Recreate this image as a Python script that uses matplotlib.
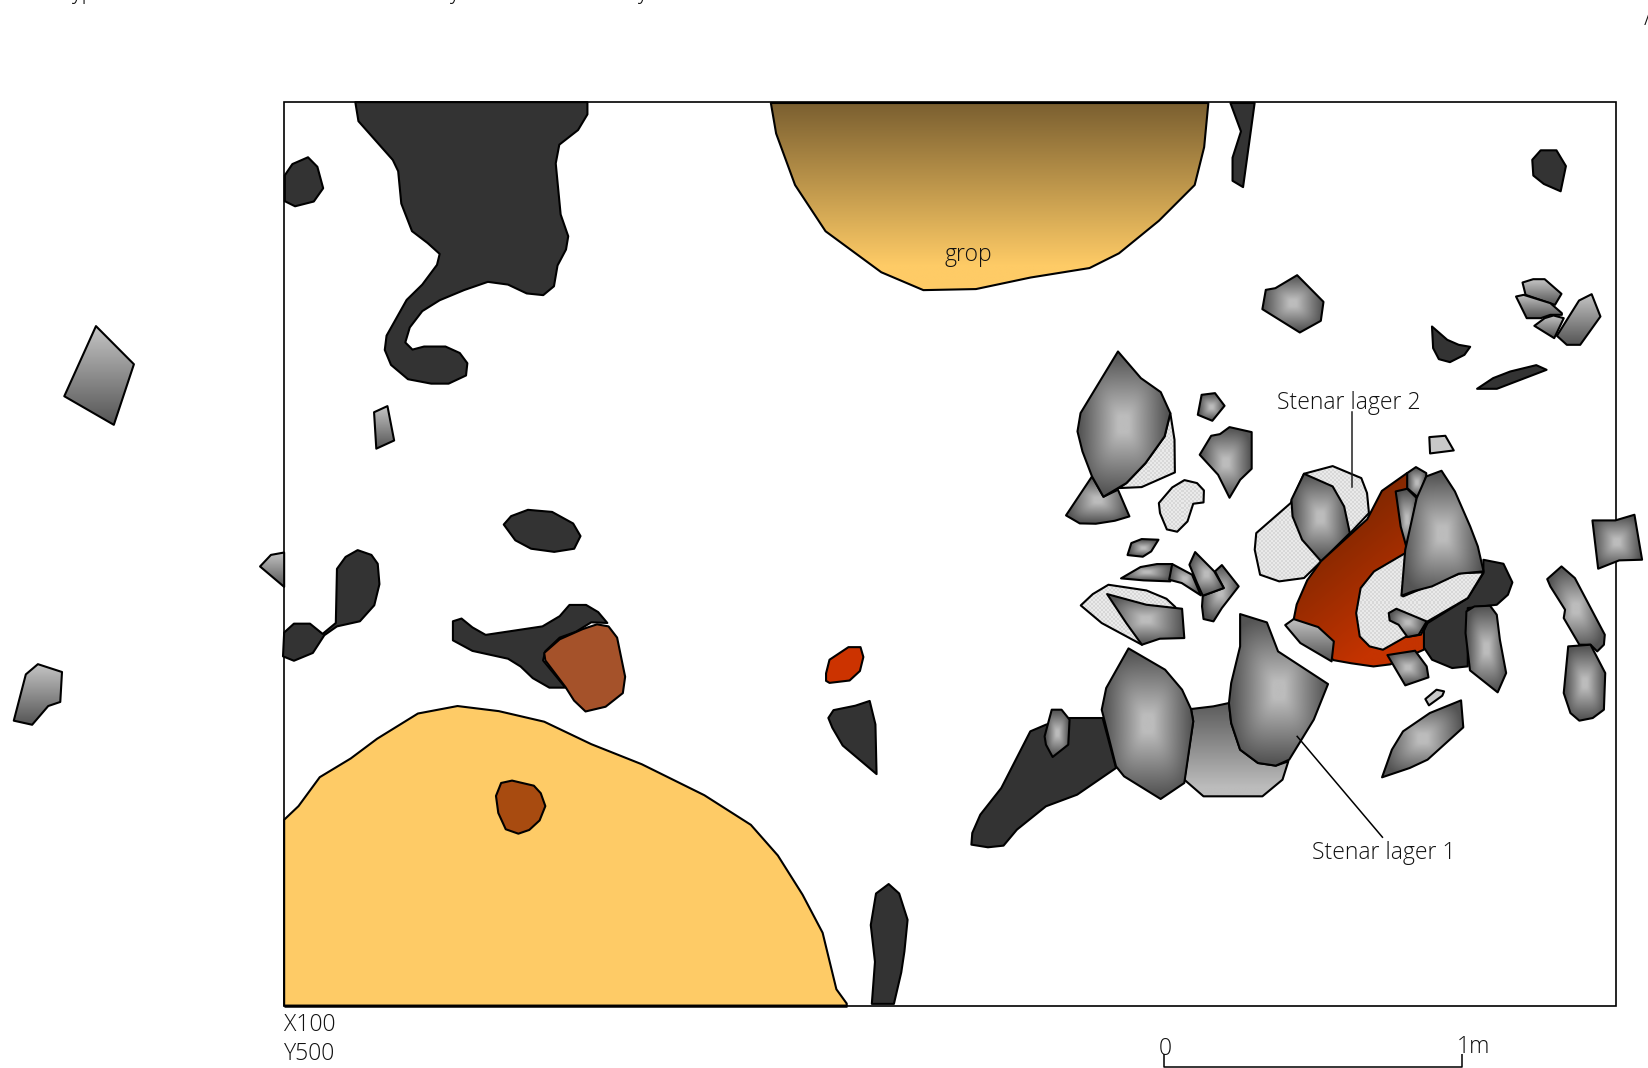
import numpy as np
import matplotlib
matplotlib.use("Agg")
import matplotlib.pyplot as plt
from matplotlib.patches import Polygon, Rectangle

# page coordinates of the drawing
PAGE_W, PAGE_H = 1568, 1016
FRAME = (270, 97.5, 1537, 957)

V0 = (0, 0, 1, 1)
V1 = (998.4, 237.7, 2.753, 3.155)
V2 = (903.3, 523, 2.356, 3.155)
V3 = (0, 0, 2.356, 3.088)
V4 = (0, 507.8, 1.832, 3.088)

top_dark = [(796,300),(803,356),(880,470),(892,503),(899,598),(923,679),(958,714),(985,746),(979,778),(946,836),(911,881),(866,986),(862,1028),(876,1072),(914,1114),(966,1127),(1005,1127),(1044,1103),(1047,1067),(1030,1037),(998,1018),(950,1018),(924,1027),(908,1006),(918,962),(946,914),(985,882),(1040,852),(1093,828),(1138,836),(1180,862),(1217,867),(1241,841),(1249,780),(1268,733),(1273,694),(1256,630),(1245,480),(1253,425),(1295,382),(1316,336),(1316,300)]
left_dark = [(638,515),(655,482),(690,462),(711,490),(724,553),(703,592),(661,606),(638,591)]
far_stone = [(215,958),(300,1070),(255,1248),(144,1164)]
slim_stone = [(838,1211),(868,1193),(883,1294),(843,1318)]
blob = [(479,499),(486,491),(502,485),(525,487),(545,498),(552,510),(546,522),(527,525),(505,522),(490,514)]
low_stone = [(24,549),(45,413),(66,383),(108,406),(105,494),(84,506),(56,561)]
edge_stone = [(453,96),(472,62),(495,55),(495,156)]
wall_dark = [(495,290),(512,264),(540,264),(562,294),(585,262),(587,103),(602,68),(623,48),(647,62),(658,88),(661,148),(652,210),(627,257),(587,272),(565,298),(545,350),(512,373),(493,360)]
mid_dark = [(789,257),(804,249),(823,275),(846,297),(945,272),(975,242),(992,209),(1021,209),(1042,230),(1058,262),(1030,260),(1003,288),(975,305),(950,345),(946,372),(985,452),(957,452),(928,424),(907,390),(885,367),(823,344),(789,313)]
brown = [(948,350),(975,310),(1015,280),(1040,266),(1060,272),(1075,305),(1089,420),(1085,468),(1055,508),(1020,522),(1000,490),(985,450),(950,372)]
red_spot = [(1439,410),(1445,370),(1478,333),(1499,333),(1504,362),(1498,403),(1480,431),(1445,438),(1439,432)]
wedge_dark = [(1443,541),(1452,518),(1490,505),(1515,491),(1525,560),(1527,706),(1468,622),(1450,570)]
yellow = [(495,840),(520,800),(557,715),(611,660),(657,602),(728,528),(797,506),(869,521),(948,552),(1030,618),(1118,677),(1227,768),(1308,855),(1355,945),(1398,1060),(1433,1172),(1457,1338),(1475,1380),(1475,1386),(495,1386)]
orange = [(864,770),(873,732),(892,725),(930,740),(942,762),(950,800),(940,842),(922,870),(903,881),(881,868),(868,820)]
post_dark = [(828,880),(833,850),(845,841),(855,850),(863,875),(860,905),(857,925),(850,955),(829,955),(832,915)]
pit = [(733,98),(738,127),(756,176),(785,220),(838,259),(878,276),(928,275),(980,264),(1036,255),(1064,241),(1102,210),(1136,176),(1145,140),(1149,98)]
sliver_dark = [(1170,98),(1193,98),(1190,120),(1182,178),(1172,172),(1172,150),(1180,125)]
corner_dark = [(1457,152),(1465,143),(1480,143),(1489,158),(1484,182),(1468,175),(1458,167)]

s_a = [(556,178),(565,120),(590,115),(647,76),(716,156),(709,213),(654,248)]
s_b1 = [(1237,98),(1265,88),(1295,88),(1339,132),(1322,165),(1308,160),(1245,135)]
s_b2 = [(1220,140),(1240,135),(1310,160),(1340,190),(1340,195),(1310,195),(1285,205),(1248,205)]
s_b3 = [(1268,228),(1295,205),(1318,197),(1345,205),(1320,265)]
s_b4 = [(1327,258),(1385,152),(1418,133),(1441,200),(1388,285),(1353,285)]
dark_c = [(1000,230),(1040,270),(1070,285),(1100,291),(1085,315),(1047,337),(1018,328),(1003,295)]
dark_thin = [(1118,417),(1160,385),(1205,365),(1273,346),(1300,360),(1170,417)]
s_big = [(178,305),(238,385),(290,427),(315,490),(300,560),(250,640),(200,700),(140,741),(110,680),(85,605),(72,545),(80,490)]
h_big = [(315,490),(326,570),(327,668),(240,712),(180,715),(200,700),(250,640),(300,560)]
s_tri = [(110,680),(140,741),(178,720),(208,800),(170,813),(120,822),(78,821),(42,797)]
s_small = [(397,435),(432,430),(457,468),(425,513),(387,495)]
s_drop = [(392,615),(422,558),(445,553),(470,532),(528,547),(528,657),(498,690),(470,744),(440,675)]
s_pale = [(993,562),(1035,558),(1057,602),(995,611)]
h_bean = [(285,760),(320,713),(352,691),(385,700),(403,722),(402,758),(375,762),(360,815),(333,846),(306,839),(288,790)]
s_chip = [(203,916),(213,880),(240,868),(284,870),(265,905),(243,921)]
s_g1 = [(186,986),(237,952),(280,943),(320,943),(315,995),(245,992)]
s_g2 = [(320,943),(372,975),(395,1037),(345,1000),(312,990)]
s_g4 = [(400,1038),(455,1015),(432,965),(450,946),(494,1010),(450,1075),(428,1115),(402,1108),(398,1070)]
s_g3 = [(365,945),(380,907),(430,965),(455,1015),(400,1038),(385,1000)]
h_low = [(293,167),(320,133),(355,105),(440,122),(485,147),(505,172),(430,285),(340,220)]
s_low = [(352,133),(440,165),(520,177),(525,265),(470,267),(430,285),(395,220)]
h_wide = [(536,900),(540,850),(630,760),(665,672),(740,649),(815,685),(830,730),(835,790),(790,845),(710,935),(665,985),(600,995),(550,975)]
s_in = [(665,672),(740,710),(770,770),(785,850),(710,935),(660,870),(635,800),(632,750)]
red_core = [(1338,450),(1314,467),(1300,494),(1256,534),(1243,552),(1233,575),(1230,590),(1240,600),(1268,628),(1285,631),(1306,634),(1322,632),(1354,618),(1354,600),(1370,560),(1360,500),(1340,450)]
dark_core = [(1195,30),(1240,42),(1260,98),(1250,135),(1225,165),(1160,175),(1160,350),(1125,355),(1080,330),(1060,290),(1055,255),(1070,220),(1160,145),(1195,70)]
h_core = [(1020,10),(950,65),(920,115),(910,190),(918,260),(940,290),(970,300),(1020,262),(1055,255),(1070,215),(1160,145),(1195,68),(1145,70),(1060,115),(1015,140)]
s_tall = [(985,680),(1025,663),(1060,725),(1100,830),(1120,890),(1135,965),(1070,972),(1000,1010),(950,1025),(920,1038),(930,900),(960,745)]
s_top = [(935,670),(958,652),(985,670),(985,680),(965,745),(935,715)]
s_side = [(905,725),(935,717),(960,745),(935,900),(918,830)]
s_hook = [(983,190),(1000,177),(1068,215),(1050,255),(1025,262),(1005,225),(985,212)]
s_east = [(1157,185),(1175,170),(1210,168),(1225,195),(1232,270),(1246,370),(1227,428),(1165,362),(1155,250)]
s_west = [(751,226),(770,208),(825,232),(860,275),(855,335),(785,280)]
s_under = [(980,316),(1042,303),(1068,350),(1072,383),(1020,407)]
s_tiny = [(1065,448),(1090,420),(1107,425),(1103,438),(1073,467)]
s_leaf = [(968,683),(990,600),(1015,545),(1075,490),(1145,452),(1150,533),(1070,630),(1030,655)]
s_main = [(400,296),(482,360),(520,420),(540,478),(545,515),(525,700),(472,748),(390,680),(372,650),(340,480),(350,415)]
s_right = [(650,193),(710,218),(735,305),(847,403),(815,510),(760,630),(730,648),(690,640),(650,600),(630,520),(625,460),(630,400),(650,290)]
s_between = [(540,478),(590,470),(625,460),(630,520),(650,600),(690,640),(730,648),(758,635),(745,690),(700,740),(568,740),(525,690),(545,515)]
dark_low = [(48,885),(50,850),(68,795),(115,715),(180,545),(215,525),(265,505),(342,505),(372,655),(285,735),(215,770),(150,840),(120,888),(85,893)]
s_post = [(212,560),(228,480),(250,480),(268,510),(265,585),(230,622),(215,585)]
s_far1 = [(1338,88),(1370,50),(1400,85),(1467,255),(1465,285),(1450,305),(1435,285),(1410,285),(1375,205),(1378,180),(1345,110)]
s_far2 = [(1375,430),(1385,290),(1435,285),(1468,370),(1465,480),(1440,505),(1410,513),(1390,490)]
s_frame = [(1420,812),(1480,812),(1530,795),(1550,930),(1490,932),(1435,957)]

DARK = '#333333'
labels = ["grop", "Stenar lager 2", "Stenar lager 1", "X100", "Y500", "0", "1m"]

plt.rcParams['font.family'] = ['Open Sans', 'DejaVu Sans']
fig = plt.figure(figsize=(16.49, 10.68), dpi=100)
ax = fig.add_axes([0, 0, 1, 1])
ax.axis('off')

def to_page(pts, v):
    a = np.asarray(pts, float)
    return np.column_stack([v[0] + a[:, 0] / v[2], v[1] + a[:, 1] / v[3]])

def ramp(t, c0, c1):
    t = np.clip(t, 0, 1)[..., None]
    return (1 - t) * np.array(matplotlib.colors.to_rgb(c0)) + t * np.array(matplotlib.colors.to_rgb(c1))

def texture(kind, w, h):
    n, m = max(int(h * 1.05), 2), max(int(w * 1.05), 2)
    yy, xx = np.mgrid[0:n, 0:m]
    u = xx / (m - 1); v = yy / (n - 1)
    if kind == 'rad':
        r = (np.abs(2 * u - 1) ** 4 + np.abs(2 * v - 1) ** 4) ** (1 / 4)
        return ramp((r - 0.12) / 0.83, '#bcbcbc', '#545454')
    if kind == 'down':
        return ramp(v, '#c4c4c4', '#555555')
    if kind == 'up':
        return ramp(v * 1.1, '#5a5a5a', '#bcbcbc')
    if kind == 'hatch':
        rgb = np.ones((n, m, 3)) * 0.92
        rgb[(xx // 2 + yy // 2) % 2 == 0] = 0.85
        return rgb
    if kind == 'pit':
        return ramp(v * 1.15, '#7a5f30', '#fecb66')
    if kind == 'red':
        return ramp((0.62 * v + 0.38 * u - 0.22) / 0.55, '#7a2600', '#c43300')

z = [10]
def shape(pts, v=V0, fill=None, kind=None, lw=1.5):
    xy = to_page(pts, v)
    z[0] += 1
    patch = Polygon(xy, closed=True, facecolor=fill if fill else 'none', edgecolor='black',
                    linewidth=lw, joinstyle='round', zorder=z[0] + 0.5)
    ax.add_patch(patch)
    if kind:
        x0, y0 = xy.min(0); x1, y1 = xy.max(0)
        im = ax.imshow(texture(kind, x1 - x0, y1 - y0), extent=(x0, x1, y1, y0), aspect='auto',
                       interpolation='nearest' if kind == 'hatch' else 'bilinear', zorder=z[0])
        clip = Polygon(xy, closed=True, transform=ax.transData)
        im.set_clip_path(clip)
    return patch

ax.add_patch(Rectangle((FRAME[0], FRAME[1]), FRAME[2] - FRAME[0], FRAME[3] - FRAME[1],
                       facecolor='white', edgecolor='black', linewidth=1.2, zorder=2))

shape(yellow, V4, '#fecb66')
shape(orange, V4, '#a84b10')
shape(top_dark, V3, DARK)
shape(left_dark, V3, DARK)
shape(far_stone, V3, kind='down')
shape(slim_stone, V3, kind='down')
shape(blob, V0, DARK)
shape(low_stone, V4, kind='down')
shape(edge_stone, V4, kind='down')
shape(wall_dark, V4, DARK)
shape(mid_dark, V4, DARK)
shape(brown, V4, '#a5522a')
shape(red_spot, V4, '#cc3300')
shape(wedge_dark, V4, DARK)
shape(post_dark, V0, DARK)
shape(pit, V0, kind='pit')
shape(sliver_dark, V0, DARK)
shape(corner_dark, V0, DARK)

shape(s_a, V1, kind='rad')
shape(s_b1, V1, kind='down')
shape(s_b2, V1, kind='down')
shape(s_b3, V1, kind='down')
shape(s_b4, V1, kind='down')
shape(dark_c, V1, DARK)
shape(dark_thin, V1, DARK)
shape(s_tri, V1, kind='rad')
shape(h_big, V1, kind='hatch')
shape(s_big, V1, kind='rad')
shape(s_small, V1, kind='rad')
shape(s_drop, V1, kind='rad')
shape(s_pale, V1, '#c8c8c8')
shape(h_bean, V1, kind='hatch')
shape(s_chip, V1, kind='rad')
shape(s_g1, V1, kind='rad')
shape(s_g2, V1, kind='rad')
shape(s_g4, V1, kind='rad')
shape(s_g3, V1, kind='rad')
shape(h_low, V2, kind='hatch')
shape(s_low, V2, kind='rad')
shape(h_wide, V1, kind='hatch')
shape(s_in, V1, kind='rad')
shape(dark_core, V2, DARK)
shape(red_core, V0, kind='red')
shape(h_core, V2, kind='hatch')
shape(s_top, V1, kind='rad')
shape(s_side, V1, kind='rad')
shape(s_tall, V1, kind='rad')
shape(s_hook, V2, kind='rad')
shape(s_east, V2, kind='rad')
shape(s_west, V2, kind='down')
shape(s_under, V2, kind='rad')
shape(s_tiny, V2, '#c8c8c8')
shape(s_leaf, V2, kind='rad')
shape(dark_low, V2, DARK)
shape(s_post, V2, kind='rad')
shape(s_between, V2, kind='up')
shape(s_main, V2, kind='rad')
shape(s_right, V2, kind='rad')
shape(s_far1, V2, kind='rad')
shape(s_far2, V2, kind='rad')
shape(s_frame, V1, kind='rad')

LINE = dict(color='black', lw=1.1, zorder=200, solid_capstyle='butt')
ax.plot([1286, 1286], [392, 463], color='#222222', lw=1.1, zorder=200)
ax.plot([1315, 1233], [797, 700], **LINE)
ax.plot([1107, 1107, 1390, 1390], [1003, 1015, 1015, 1003], **LINE)
ax.plot([270, 805], [957, 957], color='black', lw=1.8, zorder=100, solid_capstyle='butt')

TXT = dict(color='#111111', fontsize=16.6, fontweight='light', zorder=210)
ax.text(920.5, 243, labels[0], ha='center', va='center', **TXT)
ax.text(1214, 383, labels[1], ha='left', va='center', **TXT)
ax.text(1248, 811, labels[2], ha='left', va='center', **TXT)
ax.text(270, 975, labels[3], ha='left', va='center', **TXT)
ax.text(270, 1003, labels[4], ha='left', va='center', **TXT)
ax.text(1102, 998, labels[5], ha='left', va='center', **TXT)
ax.text(1385, 996, labels[6], ha='left', va='center', **TXT)
# line of page text cut off by the top edge
for x, s in [(68, 'yp'), (427, 'y'), (606, 'y')]:
    ax.text(x, -2, s, ha='left', va='baseline', **TXT)
ax.text(1563, 24, '/', ha='left', va='baseline', **TXT)

ax.set_xlim(0, PAGE_W)
ax.set_ylim(PAGE_H, 0)
fig.savefig('out.png', dpi=100, facecolor='white')
